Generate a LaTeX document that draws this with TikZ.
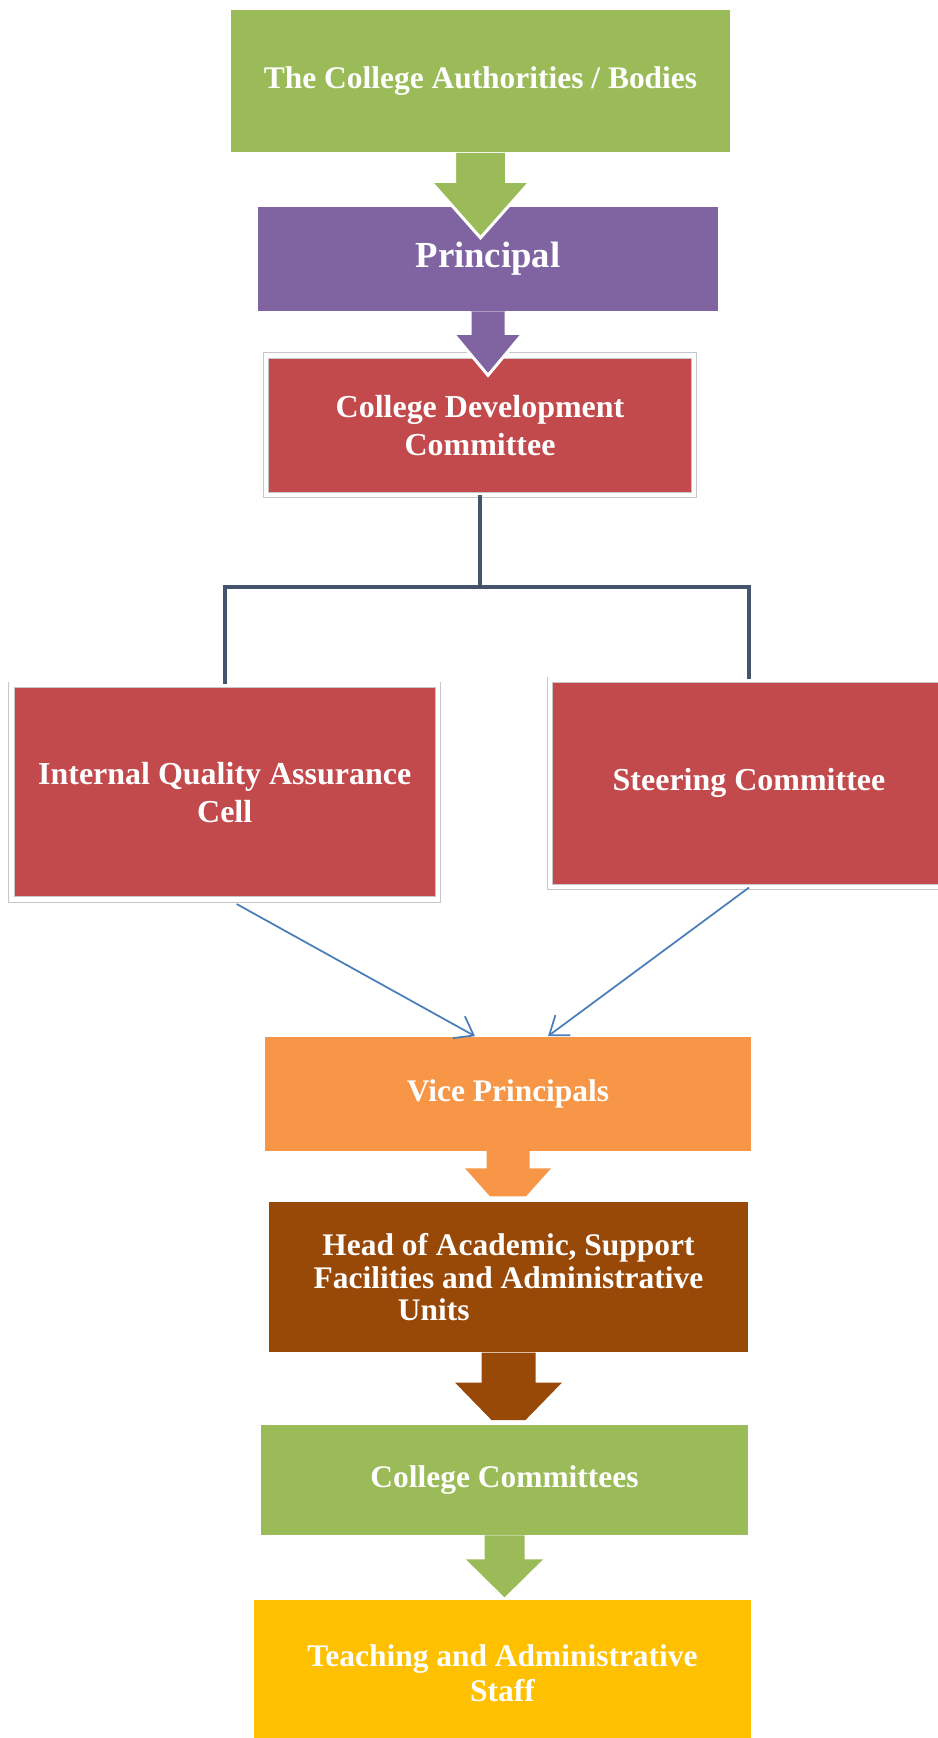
\documentclass[tikz,border=0pt]{standalone}
\usepackage{fontspec}
\setmainfont{Liberation Serif}
\usepackage{xcolor}
\usepackage{tikz}
\usetikzlibrary{arrows.meta,calc}

\definecolor{authgreen}{HTML}{9BBB59}
\definecolor{princpurple}{HTML}{8064A2}
\definecolor{cellred}{HTML}{C24A4D}
\definecolor{viceorange}{HTML}{F79646}
\definecolor{headbrown}{HTML}{984807}
\definecolor{staffyellow}{HTML}{FFC000}
\definecolor{treeblue}{HTML}{44546A}
\definecolor{linkblue}{HTML}{4A7EBB}

\begin{document}
\begin{tikzpicture}[x=0.02cm, y=-0.02cm,
  box/.style={rectangle, inner sep=0pt, align=center, text=white,
    font=\bfseries\fontsize{17.9}{18.6}\selectfont},
  framed/.style={box, draw=black!22, line width=0.5pt, double=white, double distance=0.09cm,
    font=\bfseries\fontsize{18.2}{21.6}\selectfont},
  tree/.style={draw=treeblue, line width=0.08cm},
  link/.style={draw=linkblue, line width=0.035cm, -{Straight Barb[length=0.34cm, width=0.5cm]}},
  rim/.style={draw=white, line width=0.06cm}]
  \useasboundingbox (0,0) rectangle (937,1738);

  % Top of the chain
  \node[box, fill=authgreen, minimum width=9.98cm, minimum height=2.86cm] (auth) at (480.5,81)
    {The College Authorities / Bodies};
  \node[box, fill=princpurple, minimum width=9.2cm, minimum height=2.08cm,
    font=\bfseries\fontsize{20.9}{24}\selectfont] (princ) at (488,259) {Principal};
  \node[framed, fill=cellred, minimum width=8.56cm, minimum height=2.79cm] (cdc) at (480,425.25)
    {College Development\\Committee};

  % Block arrows
  \fill[authgreen] ($(auth.south)+(-26,0)$) -- ++(0,28.5) -- ++(-24,0) -- ++(50,56.5)
    -- ++(50,-56.5) -- ++(-24,0) -- ++(0,-28.5);
  \draw[rim] ($(auth.south)+(-26,0)$) -- ++(0,28.5) -- ++(-24,0) -- ++(50,56.5)
    -- ++(50,-56.5) -- ++(-24,0) -- ++(0,-28.5);
  \fill[princpurple] ($(princ.south)+(-18,0)$) -- ++(0,22) -- ++(-17,0) -- ++(35,42)
    -- ++(35,-42) -- ++(-17,0) -- ++(0,-22);
  \draw[rim] ($(princ.south)+(-18,0)$) -- ++(0,22) -- ++(-17,0) -- ++(35,42)
    -- ++(35,-42) -- ++(-17,0) -- ++(0,-22);

  % Committees under the CDC
  \node[framed, fill=cellred, minimum width=8.53cm, minimum height=4.3cm] (iqac) at (224.7,792.1)
    {Internal Quality Assurance\\Cell};
  \node[framed, fill=cellred, minimum width=7.96cm, minimum height=4.15cm] (steer) at (749,783.35)
    {Steering Committee};
  \coordinate (fork) at ($(cdc.south)+(0,92)$);
  \draw[tree] (cdc.south) -- (fork) -| (iqac.north);
  \draw[tree] (fork) -| (steer.north);

  % Lower chain
  \node[box, fill=viceorange, minimum width=9.72cm, minimum height=2.28cm] (vice) at (508,1093.5)
    {Vice Principals};
  \node[box, fill=headbrown, minimum width=9.58cm, minimum height=3.0cm] (head) at (508.5,1277.2)
    {Head of Academic, Support\\Facilities and Administrative\\Units\hspace*{4.75em}};
  \node[box, fill=authgreen, minimum width=9.74cm, minimum height=2.2cm] (comm) at (504.5,1480)
    {College Committees};
  \node[box, fill=staffyellow, minimum width=9.94cm, minimum height=2.92cm,
    font=\bfseries\fontsize{17.9}{19.9}\selectfont] (staff) at (502.5,1673)
    {Teaching and Administrative\\Staff};

  \draw[link] ($(iqac.south)+(12,4)$) -- ($(vice.north)+(-33,0)$);
  \draw[link] (steer.south) -- ($(vice.north)+(40,0)$);

  \fill[viceorange] ($(vice.south)+(-21.5,0)$) -- ++(0,17.5) -- ++(-21.5,0) -- ++(25,28)
    -- ++(36,0) -- ++(25,-28) -- ++(-21.5,0) -- ++(0,-17.5);
  \fill[headbrown] ($(head.south)+(-27,0)$) -- ++(0,30) -- ++(-26.5,0) -- ++(36.5,37.5)
    -- ++(34,0) -- ++(36.5,-37.5) -- ++(-26.5,0) -- ++(0,-30);
  \fill[authgreen] ($(comm.south)+(-20,0)$) -- ++(0,24) -- ++(-18.5,0) -- ++(38.5,38)
    -- ++(38.5,-38) -- ++(-18.5,0) -- ++(0,-24);
\end{tikzpicture}
\end{document}
